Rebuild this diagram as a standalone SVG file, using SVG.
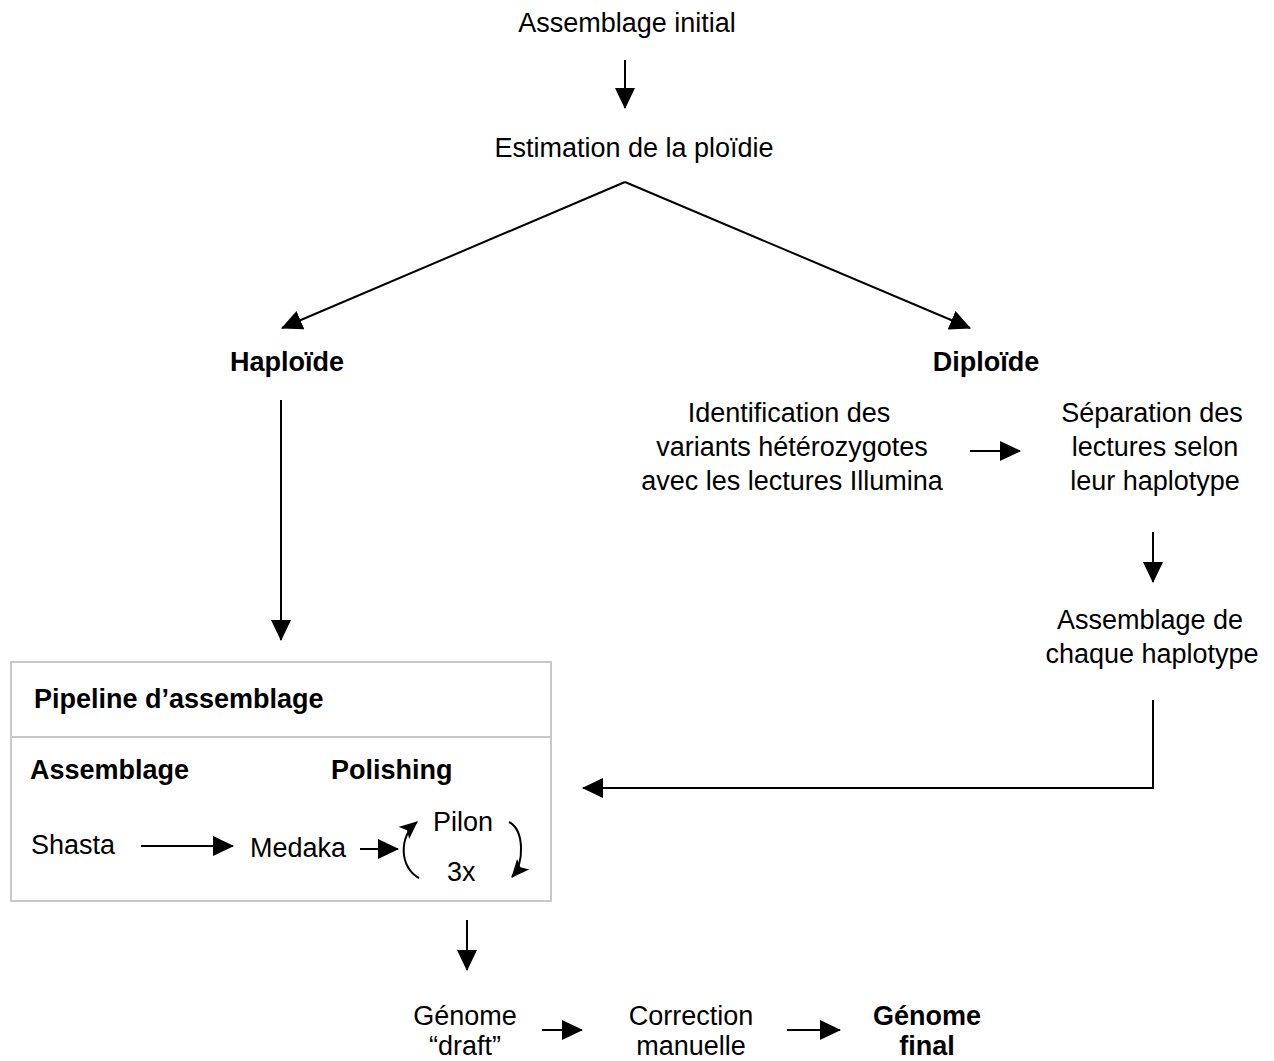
<svg xmlns="http://www.w3.org/2000/svg" width="1274" height="1061" viewBox="0 0 1274 1061">
<style>
text{font-family:"Liberation Sans",Arial,sans-serif;font-size:27px;fill:#000}
.b{font-weight:bold}
.c{text-anchor:middle}
.ln{stroke:#000;stroke-width:2;fill:none}
</style>
<defs>
<marker id="ah" markerUnits="userSpaceOnUse" markerWidth="22" markerHeight="22" viewBox="0 0 22 22" refX="20" refY="11" orient="auto">
<path d="M0,1 L21,11 L0,21 Z" fill="#000"/>
</marker>
<marker id="ahs" markerUnits="userSpaceOnUse" markerWidth="18" markerHeight="18" viewBox="0 0 18 18" refX="17" refY="9" orient="auto">
<path d="M0,1 L18,9 L0,17 L4,9 Z" fill="#000"/>
</marker>
</defs>
<g id="n-pipeline">
<rect x="11" y="662" width="540" height="239" fill="none" stroke="#c8c8c8" stroke-width="2"/>
<line x1="11" y1="737" x2="551" y2="737" stroke="#c8c8c8" stroke-width="2"/>
<text class="b" x="34" y="708">Pipeline d’assemblage</text>
<text class="b" x="30" y="779">Assemblage</text>
<text class="b" x="331" y="779">Polishing</text>
<text x="31" y="854">Shasta</text>
<text x="250" y="857">Medaka</text>
<text x="433" y="831">Pilon</text>
<text x="447" y="881">3x</text>
</g>
<g id="connectors">
<line class="ln" x1="625" y1="60" x2="625" y2="108" marker-end="url(#ah)"/>
<line class="ln" x1="625" y1="182" x2="282" y2="328" marker-end="url(#ah)"/>
<line class="ln" x1="625" y1="182" x2="970" y2="328" marker-end="url(#ah)"/>
<line class="ln" x1="281" y1="400" x2="281" y2="640" marker-end="url(#ah)"/>
<line class="ln" x1="970" y1="451" x2="1020" y2="451" marker-end="url(#ah)"/>
<line class="ln" x1="1153" y1="532" x2="1153" y2="582" marker-end="url(#ah)"/>
<polyline class="ln" points="1153,700 1153,788 583,788" marker-end="url(#ah)"/>
<line class="ln" x1="141" y1="846" x2="233" y2="846" marker-end="url(#ah)"/>
<line class="ln" x1="360" y1="849" x2="398" y2="849" marker-end="url(#ah)"/>
<path class="ln" d="M419,878 C400,868 398,838 417,822" marker-end="url(#ahs)"/>
<path class="ln" d="M509,822 C524,830 525,862 512,877" marker-end="url(#ahs)"/>
<line class="ln" x1="467" y1="920" x2="467" y2="970" marker-end="url(#ah)"/>
<line class="ln" x1="542" y1="1030" x2="582" y2="1030" marker-end="url(#ah)"/>
<line class="ln" x1="787" y1="1030" x2="840" y2="1030" marker-end="url(#ah)"/>
</g>
<g id="n-initial"><text class="c" x="627" y="32">Assemblage initial</text></g>
<g id="n-ploidie"><text class="c" x="634" y="157">Estimation de la ploïdie</text></g>
<g id="n-haploide"><text class="c b" x="287" y="371">Haploïde</text></g>
<g id="n-diploide"><text class="c b" x="986" y="371">Diploïde</text></g>
<g id="n-identification">
<text class="c" x="789" y="422">Identification des</text>
<text class="c" x="792" y="456">variants hétérozygotes</text>
<text class="c" x="792" y="490">avec les lectures Illumina</text>
</g>
<g id="n-separation">
<text class="c" x="1152" y="422">Séparation des</text>
<text class="c" x="1155" y="456">lectures selon</text>
<text class="c" x="1155" y="490">leur haplotype</text>
</g>
<g id="n-assemblage-hap">
<text class="c" x="1150" y="629">Assemblage de</text>
<text class="c" x="1152" y="663">chaque haplotype</text>
</g>
<g id="n-draft">
<text class="c" x="465" y="1025">Génome</text>
<text class="c" x="465" y="1055">“draft”</text>
</g>
<g id="n-correction">
<text class="c" x="691" y="1025">Correction</text>
<text class="c" x="691" y="1055">manuelle</text>
</g>
<g id="n-final">
<text class="c b" x="927" y="1025">Génome</text>
<text class="c b" x="927" y="1055">final</text>
</g>
</svg>
